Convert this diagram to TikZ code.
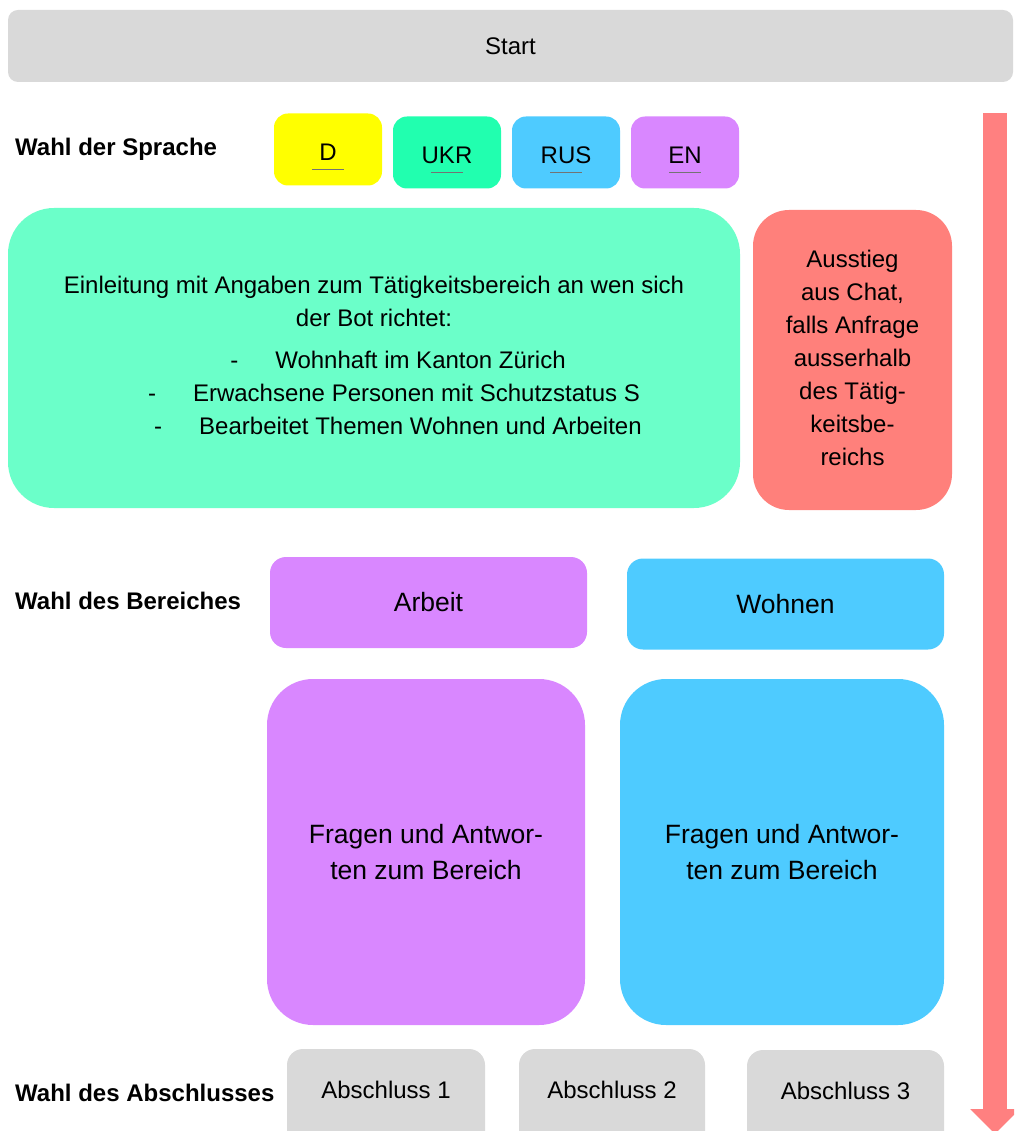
\documentclass[tikz,border=0pt]{standalone}
\usepackage{fontspec}
\setmainfont{Liberation Sans}
\usetikzlibrary{arrows.meta}

\definecolor{boxgray}{RGB}{217,217,217}
\definecolor{langyellow}{RGB}{255,255,0}
\definecolor{langgreen}{RGB}{33,255,175}
\definecolor{langblue}{RGB}{78,203,255}
\definecolor{langviolet}{RGB}{217,135,255}
\definecolor{introgreen}{RGB}{107,255,201}
\definecolor{exitred}{RGB}{255,128,123}
\definecolor{flowred}{RGB}{255,128,128}

\begin{document}
\begin{tikzpicture}[x=1pt, y=-1pt, every node/.style={font=\fontsize{24}{33}\selectfont}]
% Styles
\tikzstyle{box} = [rectangle, draw=none, align=center, inner sep=0pt]
\tikzstyle{startbox} = [box, rounded corners=10pt, fill=boxgray, minimum width=1005pt, minimum height=72pt]
\tikzstyle{lang} = [box, rounded corners=14pt, minimum width=108pt, minimum height=72pt, text height=23pt]
\tikzstyle{topic} = [box, rounded corners=16pt, minimum width=317pt, minimum height=91pt, font=\fontsize{26.5}{36}\selectfont]
\tikzstyle{qa} = [box, rounded corners=46pt, minimum height=346pt, font=\fontsize{26.5}{36}\selectfont]
\tikzstyle{ending} = [box, rounded corners=16pt, fill=boxgray, minimum width=198pt, minimum height=100pt, text depth=18pt]
\tikzstyle{steplabel} = [anchor=west, inner sep=0pt, font=\bfseries\fontsize{24}{33}\selectfont]
\tikzstyle{underline} = [black!55, line width=1pt]
\tikzstyle{flow} = [flowred, line width=24pt, -{Triangle[length=25pt, width=48pt]}]

\clip (0,0) rectangle (1014,1131);

\node (start) [startbox] at (510.5,46) {Start};

% language choice
\node (lbl_sprache) [steplabel] at (15,149) {Wahl der Sprache};
\node (lang_d) [lang, fill=langyellow] at (328,149.5) {D};
\node (lang_ukr) [lang, fill=langgreen] at (447,152.5) {UKR};
\node (lang_rus) [lang, fill=langblue] at (566,152.5) {RUS};
\node (lang_en) [lang, fill=langviolet] at (685,152.5) {EN};
\foreach \n in {lang_d, lang_ukr, lang_rus, lang_en}
  \draw [underline] ([xshift=-16pt, yshift=-20.5pt]\n.center) -- ([xshift=16pt, yshift=-20.5pt]\n.center);

\node (intro) [box, fill=introgreen, rounded corners=46pt, minimum width=732pt, minimum height=300pt, text depth=5pt] at (374,358) {Einleitung mit Angaben zum Tätigkeitsbereich an wen sich\\der Bot richtet:\\[9pt]
\hspace*{48pt}-\hspace{37pt}Wohnhaft im Kanton Zürich\\
\hspace*{40pt}-\hspace{37pt}Erwachsene Personen mit Schutzstatus S\\
\hspace*{48pt}-\hspace{37pt}Bearbeitet Themen Wohnen und Arbeiten};
\node (exit) [box, fill=exitred, rounded corners=36pt, minimum width=199pt, minimum height=300pt, text depth=4pt] at (852.5,360) {Ausstieg\\aus Chat,\\falls Anfrage\\ausserhalb\\des Tätig-\\keitsbe-\\reichs};

% topic choice
\node (lbl_bereich) [steplabel] at (15,601) {Wahl des Bereiches};
\node (arbeit) [topic, fill=langviolet] at (428.5,602.5) {Arbeit};
\node (wohnen) [topic, fill=langblue] at (785.5,604) {Wohnen};
\node (qa_arbeit) [qa, fill=langviolet, minimum width=318pt] at (426,852) {Fragen und Antwor-\\ten zum Bereich};
\node (qa_wohnen) [qa, fill=langblue, minimum width=324pt] at (782,852) {Fragen und Antwor-\\ten zum Bereich};

% endings
\node (lbl_abschluss) [steplabel] at (15,1093) {Wahl des Abschlusses};
\node (end_1) [ending] at (386,1099) {Abschluss 1};
\node (end_2) [ending, minimum width=186pt] at (612,1099) {Abschluss 2};
\node (end_3) [ending, minimum width=197pt] at (845.5,1100) {Abschluss 3};

\coordinate (flow_start) at (995,113);
\coordinate (flow_end) at (995,1134);
\draw [flow] (flow_start) -- (flow_end);

\end{tikzpicture}
\end{document}
